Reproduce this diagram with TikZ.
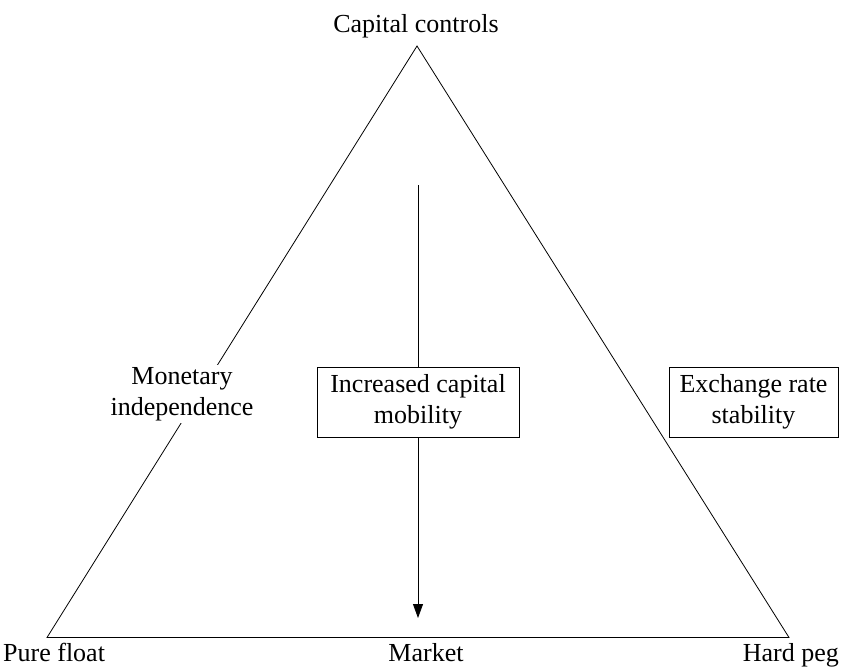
\documentclass[tikz,border=0pt]{standalone}
\usepackage{fontspec}
\setmainfont{Liberation Serif}
\usetikzlibrary{arrows.meta}
\begin{document}
\begin{tikzpicture}[x=1pt,y=-1pt,
  every node/.style={font=\fontsize{26}{30.5}\selectfont, inner sep=0pt},
  lbl/.style={align=center, fill=white, inner sep=2pt},
  boxed/.style={draw, fill=white, line width=0.8pt, align=center, minimum height=70pt},
  edge/.style={line width=0.8pt}]
\useasboundingbox (0,0) rectangle (842,669);
% triangle corners
\coordinate (apex) at (417,46);
\coordinate (bl) at (47,637.5);
\coordinate (br) at (789,637.5);
\draw[edge, line join=miter] (apex) -- (bl) -- (br) -- cycle;
% arrow
\coordinate (astart) at (418,185);
\coordinate (atip) at (418,618);
\draw[edge, -{Triangle[length=14pt,width=10pt]}] (astart) -- (atip);
% boxes
\node[boxed, minimum width=202pt] (icm) at (418,402) {Increased capital\\mobility};
\node[boxed, minimum width=169pt] (ers) at (753.5,402) {Exchange rate\\stability};
% labels
\node[lbl] (mi) at (182,394) {Monetary\\independence};
\node[anchor=base] (cc) at (416,33) {Capital controls};
\node[anchor=base west] (pf) at (3,661) {Pure float};
\node[anchor=base] (mk) at (426,661) {Market};
\node[anchor=base east] (hp) at (839,661) {Hard peg};
\end{tikzpicture}
\end{document}
